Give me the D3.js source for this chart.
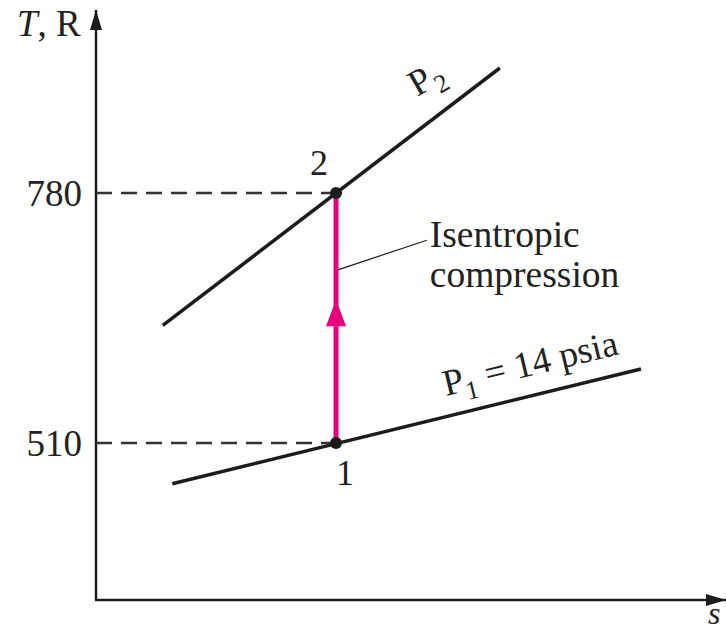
<!DOCTYPE html>
<html>
<head>
<meta charset="utf-8">
<script src="https://cdn.jsdelivr.net/npm/d3@7"></script>
<style>
  body { margin: 0; background: #fff; }
  text { font-family: "Liberation Serif", "DejaVu Serif", serif; fill: #222; }
</style>
</head>
<body>
<svg id="ts"></svg>
<script>
// temperature ticks (R)
var tempTicks = [510, 780];
// states: entropy (arbitrary units) and temperature (R)
var stateLabels = ["1", "2"];
var stateS = [3.81, 3.81];
var stateT = [510, 780];
// isobars, two end points each
var p2S = [1.06, 6.41];
var p2T = [637, 915];
var p1S = [1.21, 8.65];
var p1T = [466, 590];
// leader line for the process label
var leaderS = [3.84, 5.25];
var leaderT = [697, 729];
var processLabel = ["Isentropic", "compression"];

var width = 726, height = 635;
var svg = d3.select("#ts")
    .attr("width", width)
    .attr("height", height);

var x = d3.scaleLinear().domain([0, 10]).range([96, 726]);
var y = d3.scaleLinear().domain([510, 780]).range([443, 193]);
var sMin = 0, sMax = 10, tMin = y.invert(600), tMax = y.invert(10);

var ink = "#1c1c1c", pink = "#e6007e";

// arrow heads
var defs = svg.append("defs");
defs.append("marker")
    .attr("id", "axisHead")
    .attr("viewBox", "0 0 20 12")
    .attr("refX", 20).attr("refY", 6)
    .attr("markerUnits", "userSpaceOnUse")
    .attr("markerWidth", 20).attr("markerHeight", 12)
    .attr("orient", "auto")
    .append("path")
    .attr("d", "M0,0 L20,6 L0,12 Z")
    .attr("fill", ink);

// axes
svg.append("line")
    .attr("x1", x(sMin)).attr("y1", y(tMin))
    .attr("x2", x(sMin)).attr("y2", y(tMax))
    .attr("stroke", ink).attr("stroke-width", 2.5)
    .attr("marker-end", "url(#axisHead)");
svg.append("line")
    .attr("x1", x(sMin) - 1).attr("y1", y(tMin))
    .attr("x2", x(sMax)).attr("y2", y(tMin))
    .attr("stroke", ink).attr("stroke-width", 2.5)
    .attr("marker-end", "url(#axisHead)");

var yAxis = d3.axisLeft(y)
    .tickValues(tempTicks)
    .tickSize(0)
    .tickPadding(14)
    .tickFormat(d3.format("d"));
var gy = svg.append("g")
    .attr("transform", "translate(" + x(sMin) + ",0)")
    .call(yAxis);
gy.select(".domain").remove();
gy.selectAll("text")
    .style("font-family", "Liberation Serif, serif")
    .style("font-size", "37px")
    .attr("fill", "#222")
    .attr("dy", "0.33em");

// dashed guide lines
svg.selectAll(".guide")
    .data(stateT)
    .enter().append("line")
    .attr("class", "guide")
    .attr("x1", x(sMin)).attr("y1", function (d) { return y(d); })
    .attr("x2", function (d, i) { return x(stateS[i]); })
    .attr("y2", function (d) { return y(d); })
    .attr("stroke", "#333").attr("stroke-width", 2.5)
    .attr("stroke-dasharray", "16,9");

// isobars
var line = d3.line()
    .x(function (d) { return x(d[0]); })
    .y(function (d) { return y(d[1]); });
[[p2S, p2T], [p1S, p1T]].forEach(function (p) {
    svg.append("path")
        .datum(d3.zip(p[0], p[1]))
        .attr("d", line)
        .attr("fill", "none")
        .attr("stroke", ink)
        .attr("stroke-width", 3.5);
});

// process 1-2
svg.append("line")
    .attr("x1", x(stateS[0])).attr("y1", y(stateT[0]))
    .attr("x2", x(stateS[1])).attr("y2", y(stateT[1]))
    .attr("stroke", pink).attr("stroke-width", 5);
var tipT = 665, baseT = 636;
svg.append("path")
    .attr("d", "M" + x(stateS[0]) + "," + y(tipT) +
        "L" + (x(stateS[0]) + 10) + "," + y(baseT) +
        "L" + (x(stateS[0]) - 10) + "," + y(baseT) + "Z")
    .attr("fill", pink);

// leader line and label
svg.append("line")
    .attr("x1", x(leaderS[0])).attr("y1", y(leaderT[0]))
    .attr("x2", x(leaderS[1])).attr("y2", y(leaderT[1]))
    .attr("stroke", ink).attr("stroke-width", 1.2);
svg.append("text")
    .attr("x", x(leaderS[1]) + 3)
    .attr("y", y(leaderT[1]) + 7)
    .style("font-size", "37.5px")
    .selectAll("tspan")
    .data(processLabel)
    .enter().append("tspan")
    .attr("x", x(leaderS[1]) + 3)
    .attr("dy", function (d, i) { return i ? 40 : 0; })
    .text(function (d) { return d; });

// state points
svg.selectAll(".state")
    .data(stateT)
    .enter().append("circle")
    .attr("class", "state")
    .attr("cx", function (d, i) { return x(stateS[i]); })
    .attr("cy", function (d) { return y(d); })
    .attr("r", 6)
    .attr("fill", ink);
svg.selectAll(".stateLabel")
    .data(stateLabels)
    .enter().append("text")
    .attr("class", "stateLabel")
    .attr("x", function (d, i) { return x(stateS[i]) + (i ? -17 : 9); })
    .attr("y", function (d, i) { return y(stateT[i]) + (i ? -18 : 42); })
    .attr("text-anchor", "middle")
    .style("font-size", "36px")
    .text(function (d) { return d; });

// isobar labels
var p2 = svg.append("text")
    .attr("transform", "translate(" + 417 + "," + 97 + ") rotate(-30)")
    .style("font-size", "37px");
p2.append("tspan").text("P");
p2.append("tspan").attr("font-size", "26px").attr("dy", 9).attr("dx", 1).text("2");

var p1 = svg.append("text")
    .attr("transform", "translate(" + 446 + "," + 396 + ") rotate(-13.5)")
    .style("font-size", "37px");
p1.append("tspan").text("P");
p1.append("tspan").attr("font-size", "26px").attr("dy", 9).text("1");
p1.append("tspan").attr("dy", -9).text(" = 14 psia");

// axis titles
var yt = svg.append("text")
    .attr("x", 17).attr("y", 36)
    .style("font-size", "37px");
yt.append("tspan").style("font-style", "italic").text("T");
yt.append("tspan").text(", R");
svg.append("text")
    .attr("x", 708).attr("y", 624)
    .style("font-size", "32px")
    .style("font-style", "italic")
    .text("s");
</script>
</body>
</html>
